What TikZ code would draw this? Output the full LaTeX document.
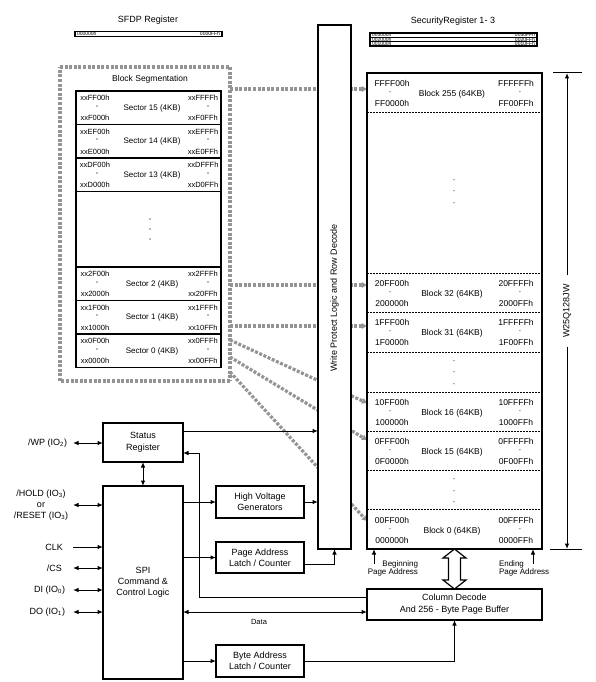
\documentclass[tikz,border=0pt]{standalone}
\usepackage{fontspec}
\setmainfont{Liberation Sans}
\usetikzlibrary{arrows.meta,calc}
\newcommand\fsz[2]{\fontsize{#1}{#2}\selectfont}
\tikzset{
  box/.style={draw, line width=1.3pt, fill=white, inner sep=0pt, outer sep=0pt, align=center, font=\fsz{9}{11.5}},
  lbl/.style={inner sep=0pt, outer sep=0pt, font=\fsz{9}{11}},
  stxt/.style={inner sep=0pt, outer sep=0pt, font=\fsz{7.5}{9}},
  mtxt/.style={inner sep=0pt, outer sep=0pt, font=\fsz{8.5}{10}},
  tinytxt/.style={inner sep=0pt, outer sep=0pt, font=\fsz{5}{5}},
  arr/.style={line width=1pt, -{Latex[length=5.5pt,width=4.5pt]}},
  darr/.style={line width=1pt, {Latex[length=5.5pt,width=4.5pt]}-{Latex[length=5.5pt,width=4.5pt]}},
  gframe/.style={draw=black!42, line width=3.2pt, dash pattern=on 3pt off 1.6pt},
  garr/.style={gframe, -{Triangle[length=5pt,width=6pt,line width=0pt,fill=black!42,color=black!42]}},
  dline/.style={line width=0.7pt, dash pattern=on 2pt off 1pt},
  regbar/.style={draw, line width=1.2pt, fill=white, inner sep=0pt, outer sep=0pt},
}
\newcommand\mysec[7]{%
  \node[stxt] (#1a) at (95,#2+7) {#4};
  \node[stxt] (#1b) at (97,#2+16) {-};
  \node[stxt] (#1c) at (95,#2+27) {#5};
  \node[stxt] (#1d) at (203,#2+7) {#6};
  \node[stxt] (#1e) at (208,#2+16) {-};
  \node[stxt] (#1f) at (203,#2+27) {#7};
  \node[stxt, font=\fsz{8}{9}] (#1g) at (152,#2+17) {#3};
}
\newcommand\memblk[7]{%
  \node[mtxt] (#1a) at (392,#2+10) {#4};
  \node[mtxt] (#1b) at (390,#2+20.5) {·};
  \node[mtxt] (#1c) at (392,#2+30.5) {#5};
  \node[mtxt] (#1d) at (516,#2+10) {#6};
  \node[mtxt] (#1e) at (520,#2+20.5) {·};
  \node[mtxt] (#1f) at (516,#2+30.5) {#7};
  \node[mtxt] (#1g) at (452,#2+21) {#3};
}
\begin{document}
\begin{tikzpicture}[x=1pt,y=-1pt]
\useasboundingbox (0,0) rectangle (595,682);
\fill[white] (0,0) rectangle (595,682);

% ---------- registers at top
\node[lbl] (sfdpt) at (148,20) {SFDP Register};
\node[regbar, minimum width=147, minimum height=5] (sfdp) at (148.5,34) {};
\node[tinytxt, anchor=west] (sfdpa) at ($(sfdp.west)+(2,0)$) {000000h};
\node[tinytxt, anchor=east] (sfdpb) at ($(sfdp.east)+(-2,0)$) {0000FFh};

\node[lbl] (sect) at (453,21) {SecurityRegister 1- 3};
\node[regbar, minimum width=167, minimum height=4.35] (sr3) at (453.5,35.2) {};
\node[regbar, minimum width=167, minimum height=4.35] (sr2) at (453.5,39.5) {};
\node[regbar, minimum width=167, minimum height=4.35] (sr1) at (453.5,43.85) {};
\node[tinytxt, anchor=west] (sr3a) at ($(sr3.west)+(2,0)$) {003000h};
\node[tinytxt, anchor=east] (sr3b) at ($(sr3.east)+(-2,0)$) {0030FFh};
\node[tinytxt, anchor=west] (sr2a) at ($(sr2.west)+(2,0)$) {002000h};
\node[tinytxt, anchor=east] (sr2b) at ($(sr2.east)+(-2,0)$) {0020FFh};
\node[tinytxt, anchor=west] (sr1a) at ($(sr1.west)+(2,0)$) {001000h};
\node[tinytxt, anchor=east] (sr1b) at ($(sr1.east)+(-2,0)$) {0010FFh};

% ---------- gray dotted segmentation box and links
\draw[gframe] (60,67) -- (230,67);
\draw[gframe] (230,67) -- (230,381);
\draw[gframe] (230,381) -- (60,381);
\draw[gframe] (60,381) -- (60,67);
\coordinate (g1) at (230,89);
\coordinate (g2) at (230,285);
\coordinate (g3) at (230,326);
\coordinate (g4) at (230,340);
\coordinate (g5) at (230,357);
\coordinate (g6) at (230,372);
\coordinate (t4) at (367,403);
\coordinate (t5) at (367,440);
\coordinate (t6) at (367,521);
\node[inner sep=0pt, minimum width=175, minimum height=476] (memref) at (454.5,311) {};
\draw[garr] (g1) -- (g1 -| memref.west);
\draw[garr] (g2) -- (g2 -| memref.west);
\draw[garr] (g3) -- (g3 -| memref.west);
\draw[garr] (g4) -- (t4);
\draw[garr] (g5) -- (t5);
\draw[garr] (g6) -- (t6);

\node[lbl, font=\fsz{8.5}{10}] (segt) at (150,79) {Block Segmentation};
\node[draw, line width=1.6pt, fill=white, inner sep=0pt, outer sep=0pt, minimum width=145, minimum height=276.5] (seg) at (148.5,229.25) {};
\foreach \yy in {124.5,158,191.5,267,300.5,334}
  \draw[line width=1.6pt] (76,\yy) -- (221,\yy);
\mysec{sa}{91}{Sector 15 (4KB)}{xxFF00h}{xxF000h}{xxFFFFh}{xxF0FFh}
\mysec{sb}{124.5}{Sector 14 (4KB)}{xxEF00h}{xxE000h}{xxEFFFh}{xxE0FFh}
\mysec{sc}{158}{Sector 13 (4KB)}{xxDF00h}{xxD000h}{xxDFFFh}{xxD0FFh}
\node[stxt] (sd1) at (150,220) {-};
\node[stxt] (sd2) at (150,230) {-};
\node[stxt] (sd3) at (150,240) {-};
\mysec{se}{267}{Sector 2 (4KB)}{xx2F00h}{xx2000h}{xx2FFFh}{xx20FFh}
\mysec{sf}{300.5}{Sector 1 (4KB)}{xx1F00h}{xx1000h}{xx1FFFh}{xx10FFh}
\mysec{sg}{334}{Sector 0 (4KB)}{xx0F00h}{xx0000h}{xx0FFFh}{xx00FFh}

% ---------- write protect logic
\node[box, minimum width=33, minimum height=524] (wp) at (334.5,287) {};
\node[lbl, rotate=90, font=\fsz{9}{10}] (wpt) at (334.5,298) {Write Protect Logic and Row Decode};

% ---------- memory array
\node[draw, line width=1.6pt, fill=white, inner sep=0pt, outer sep=0pt, minimum width=175, minimum height=476] (mem) at (454.5,311) {};
\foreach \yy in {112,273,312,352,392,431,470,509}
  \draw[dline] (367,\yy) -- (542,\yy);
\memblk{ba}{73}{Block 255 (64KB)}{FFFF00h}{FF0000h}{FFFFFFh}{FF00FFh}
\memblk{bb}{273}{Block 32 (64KB)}{20FF00h}{200000h}{20FFFFh}{2000FFh}
\memblk{bc}{312}{Block 31 (64KB)}{1FFF00h}{1F0000h}{1FFFFFh}{1F00FFh}
\memblk{bd}{392}{Block 16 (64KB)}{10FF00h}{100000h}{10FFFFh}{1000FFh}
\memblk{be}{431}{Block 15 (64KB)}{0FFF00h}{0F0000h}{0FFFFFh}{0F00FFh}
\memblk{bf}{510}{Block 0 (64KB)}{00FF00h}{000000h}{00FFFFh}{0000FFh}
\node[mtxt] (md1) at (454,181) {·};
\node[mtxt] (md2) at (454,192) {·};
\node[mtxt] (md3) at (454,204) {·};
\node[mtxt] (md4) at (454,362) {·};
\node[mtxt] (md5) at (454,373) {·};
\node[mtxt] (md6) at (454,385) {·};
\node[mtxt] (md7) at (454,480) {·};
\node[mtxt] (md8) at (454,492) {·};
\node[mtxt] (md9) at (454,503) {·};

% ---------- dimension
\coordinate (dt) at (567,73);
\coordinate (db) at (567,549);
\draw[line width=1pt] (553,73) -- (582,73);
\draw[line width=1pt] (550,549) -- (582,549);
\node[lbl, rotate=90, inner xsep=9pt] (dim) at (567,311) {W25Q128JW};
\draw[arr] (dim.east) -- (dt);
\draw[arr] (dim.west) -- (db);

% ---------- page address marks and hollow arrow
\coordinate (bpa) at (374,564);
\coordinate (epa) at (533,564);
\draw[arr] (bpa) -- (bpa |- mem.south);
\draw[arr] (epa) -- (epa |- mem.south);
\node[stxt, font=\fsz{8}{8.5}, align=right, anchor=north east] (bpat) at (418,560.5) {Beginning\\Page Address};
\node[stxt, font=\fsz{8}{8.5}, align=left, anchor=north west] (epat) at (499,560.5) {Ending\\Page Address};

% ---------- lower boxes
\node[box, minimum width=80, minimum height=39] (status) at (143,442.5) {Status\\Register};
\node[box, minimum width=80, minimum height=193, font=\fsz{9}{11}] (spi) at (143,582.5) {SPI\\Command \&\\Control Logic};
\node[box, minimum width=88, minimum height=32, font=\fsz{9}{11}] (hvg) at (260,502) {High Voltage\\Generators};
\node[box, minimum width=88, minimum height=31, font=\fsz{9}{11}] (pal) at (260,557.5) {Page Address\\Latch / Counter};
\node[box, minimum width=88, minimum height=32, font=\fsz{9}{11}] (bal) at (260,661) {Byte Address\\Latch / Counter};
\node[box, minimum width=175, minimum height=31, font=\fsz{9}{12}] (col) at (454.5,604.5) {Column Decode\\And 256 - Byte Page Buffer};

\draw[line width=1.2pt, fill=white] (454.5,549) -- (466,558) -- (460.5,558) -- (460.5,580) -- (466,580) -- (454.5,589) -- (443,580) -- (448.5,580) -- (448.5,558) -- (443,558) -- cycle;

% ---------- connectors
\coordinate (p1) at ($(status.north east)+(0,8)$);
\draw[arr] (p1) -- (p1 -| wp.west);
\coordinate (p2) at ($(status.south east)+(0,-9)$);
\coordinate (p3) at ($(col.north west)+(0,8)$);
\draw[arr] (p3) -- ++(-168,0) |- (p2);
\draw[darr] (status.south) -- (spi.north);
\draw[arr] (hvg.west -| spi.east) -- (hvg.west);
\draw[arr] (hvg.east) -- (hvg.east -| wp.west);
\draw[arr] (pal.west -| spi.east) -- (pal.west);
\coordinate (p4) at ($(pal.east)+(0,6.5)$);
\draw[arr] (p4) -| (wp.south);
\draw[arr] (bal.west -| spi.east) -- (bal.west);
\draw[arr] (bal.east) -| (col.south);
\coordinate (p5) at ($(col.south west)+(0,-8)$);
\draw[darr] (p5 -| spi.east) -- (p5);
\node[lbl, font=\fsz{7.5}{9}] (data) at (259,622) {Data};

% ---------- pins
\coordinate (pwp) at (73,443);
\coordinate (phd) at (73,505);
\coordinate (pck) at (73,547);
\coordinate (pcs) at (73,568);
\coordinate (pdi) at (73,590);
\coordinate (pdo) at (73,612);
\draw[darr] (pwp) -- (pwp -| status.west);
\draw[darr] (phd) -- (phd -| spi.west);
\draw[arr] (pck) -- (pck -| spi.west);
\draw[darr] (pcs) -- (pcs -| spi.west);
\draw[darr] (pdi) -- (pdi -| spi.west);
\draw[darr] (pdo) -- (pdo -| spi.west);
\node[lbl, anchor=east] (lwp) at (67,443) {/WP (IO\textsubscript{2})};
\node[lbl, align=center] (lhd) at (41,505) {/HOLD (IO\textsubscript{3})\\or\\/RESET (IO\textsubscript{3})};
\node[lbl, anchor=east] (lck) at (63,547) {CLK};
\node[lbl, anchor=east] (lcs) at (62,568) {/CS};
\node[lbl, anchor=east] (ldi) at (65,590) {DI (IO\textsubscript{0})};
\node[lbl, anchor=east] (ldo) at (65,612) {DO (IO\textsubscript{1})};
\end{tikzpicture}
\end{document}
